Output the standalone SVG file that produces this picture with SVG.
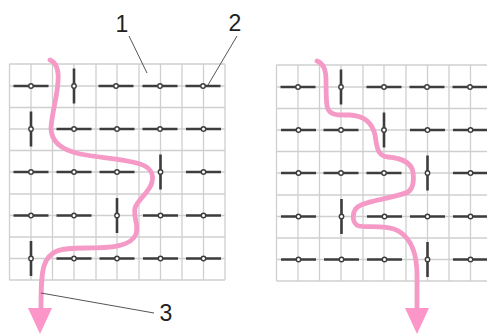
<svg xmlns="http://www.w3.org/2000/svg" width="487" height="334" viewBox="0 0 487 334">
<style>
.g{fill:none;stroke:#cfcfcf;stroke-width:1.3}
.b{stroke:#3d3d3d;stroke-width:2.6;stroke-linecap:butt}
.d{fill:#fff;stroke:#3d3d3d;stroke-width:1.4}
.p{fill:none;stroke:#f59ac6;stroke-width:4.8;stroke-linecap:round;stroke-linejoin:round}
.h{fill:#fd96c8}
.l{fill:none;stroke:#555;stroke-width:1}
.t{font-family:"Liberation Sans",Arial,sans-serif;font-size:23px;fill:#222;text-anchor:middle}
</style>
<defs>
<g id="hb"><line class="b" x1="-17.5" x2="17.5" y1="0" y2="0"/><circle class="d" r="2.2"/></g>
<g id="vb"><line class="b" y1="-17.5" y2="17.5" x1="0" x2="0"/><circle class="d" r="2.2"/></g>
</defs>
<g id="grid-left">
<path class="g" d="M9.5 64H225M9.5 86H225M9.5 107.500H225M9.500 129H225M9.500 150.500H225M9.500 172H225M9.500 194H225M9.500 215.500H225M9.500 237H225M9.500 258.500H225M9.500 280H225M9.500 64V280M31 64V280M52.500 64V280M74 64V280M96 64V280M117 64V280M139 64V280M160.500 64V280M182 64V280M203.500 64V280M225 64V280"/>
</g>
<g id="grid-right">
<path class="g" d="M276.500 65H487M276.500 87H487M276.500 108.500H487M276.500 130H487M276.500 151.500H487M276.500 173H487M276.500 195H487M276.500 216.500H487M276.500 238H487M276.500 259.500H487M276.500 281H487M276.500 65V281M298 65V281M319.500 65V281M341 65V281M363 65V281M384 65V281M406 65V281M427.500 65V281M449 65V281M470.500 65V281"/>
</g>
<g id="switches-left">
<use href="#hb" x="31" y="86"/><use href="#vb" x="74" y="86"/><use href="#hb" x="116" y="86"/><use href="#hb" x="160" y="86"/><use href="#hb" x="203" y="86"/>
<use href="#vb" x="31" y="129"/><use href="#hb" x="74" y="129"/><use href="#hb" x="117" y="129"/><use href="#hb" x="160" y="129"/><use href="#hb" x="203.500" y="129"/>
<use href="#hb" x="31" y="172"/><use href="#hb" x="74" y="172"/><use href="#hb" x="117" y="172"/><use href="#vb" x="160.500" y="172"/><use href="#hb" x="203.500" y="172"/>
<use href="#hb" x="31" y="215.500"/><use href="#hb" x="74" y="215.500"/><use href="#vb" x="117" y="215.500"/><use href="#hb" x="160.500" y="215.500"/><use href="#hb" x="203.500" y="215.500"/>
<use href="#vb" x="31" y="258.500"/><use href="#hb" x="74" y="258.500"/><use href="#hb" x="117" y="258.500"/><use href="#hb" x="160.500" y="258.500"/><use href="#hb" x="203.500" y="258.500"/>
</g>
<g id="switches-right">
<use href="#hb" x="298" y="87"/><use href="#vb" x="341" y="87"/><use href="#hb" x="384" y="87"/><use href="#hb" x="427" y="87"/><use href="#hb" x="470" y="87"/>
<use href="#hb" x="298.500" y="130"/><use href="#hb" x="341" y="130"/><use href="#vb" x="384" y="130"/><use href="#hb" x="427.500" y="130"/><use href="#hb" x="470.500" y="130"/>
<use href="#hb" x="298.500" y="173"/><use href="#hb" x="341" y="173"/><use href="#hb" x="384" y="173"/><use href="#vb" x="427.500" y="173"/><use href="#hb" x="470.500" y="173"/>
<use href="#hb" x="298.500" y="216.500"/><use href="#vb" x="341.500" y="216.500"/><use href="#hb" x="384.500" y="216.500"/><use href="#hb" x="427.500" y="216.500"/><use href="#hb" x="470.500" y="216.500"/>
<use href="#hb" x="298.500" y="259.500"/><use href="#hb" x="341.500" y="259.500"/><use href="#hb" x="384.500" y="259.500"/><use href="#vb" x="427.500" y="259.500"/><use href="#hb" x="470.500" y="259.500"/>
</g>
<g id="connectors">
<path class="p" d="M50 60C57 63 59 70 58 82C57 98 52 112 51 128C51 142 62 150 80 154C100 158 125 159 140 164C150 167 154 174 152 182C150 192 138 199 135 208C133 218 139 224 136 234C131 247 110 248 85 248C60 248 49 250 44 266C41 276 41 290 41 310"/>
<polygon class="h" points="28,308 52,308 40,334"/>
<line class="l" x1="41" y1="293" x2="154" y2="313"/>
<path class="p" d="M317 61C323 63 326 70 326 80C326 90 326 98 327 106C329 116 338 115 350 115C364 116 372 122 375 135C377 147 377 156 388 157C400 158 411 161 413 172C414 180 414 188 408 192C398 197 372 200 361 205C351 209 351 224 359 226C368 228 388 224 400 232C412 240 417 256 417 275V310"/>
<polygon class="h" points="405,308 429,308 417,334"/>
<line class="l" x1="129" y1="36" x2="147" y2="73"/>
<line class="l" x1="237" y1="36" x2="208" y2="85"/>
</g>
<g id="labels">
<text class="t" x="122" y="32">1</text>
<text class="t" x="235" y="31">2</text>
<text class="t" x="166" y="321">3</text>
</g>
</svg>
